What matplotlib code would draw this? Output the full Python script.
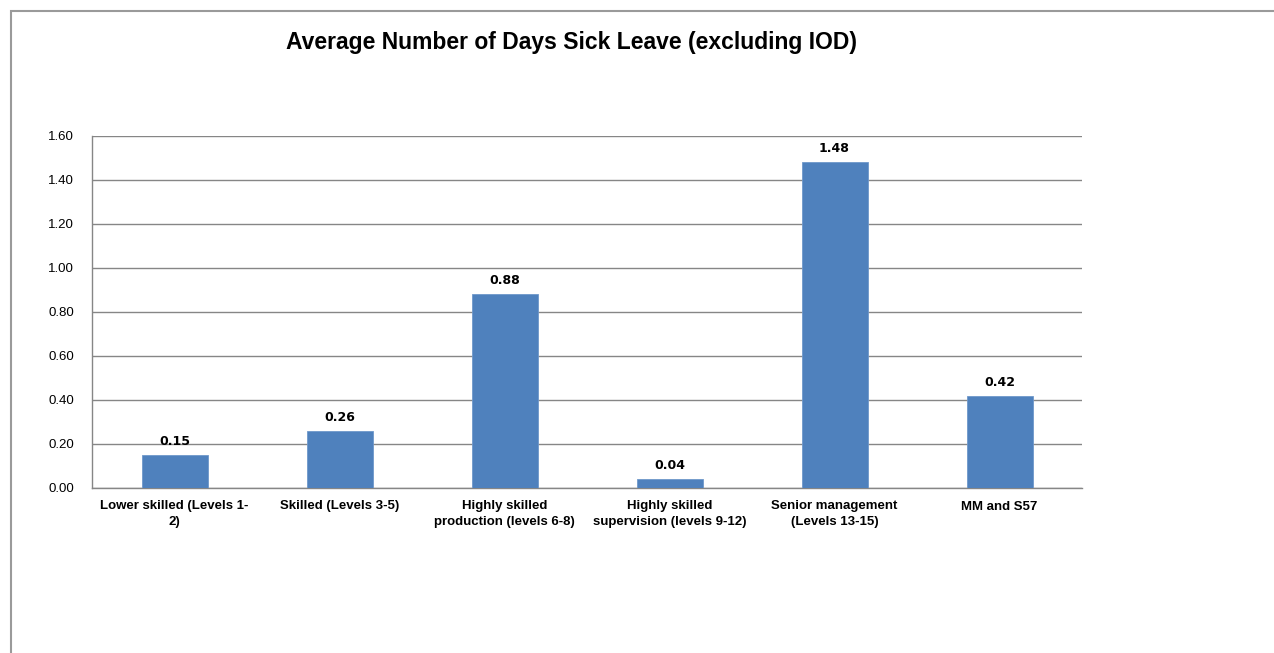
import matplotlib
matplotlib.use("Agg")
import matplotlib.pyplot as plt
from matplotlib.patches import Rectangle

categories = [
    "Lower skilled (Levels 1-\n2)",
    "Skilled (Levels 3-5)",
    "Highly skilled\nproduction (levels 6-8)",
    "Highly skilled\nsupervision (levels 9-12)",
    "Senior management\n(Levels 13-15)",
    "MM and S57",
]
values = [0.15, 0.26, 0.88, 0.04, 1.48, 0.42]
yticks = [0.0, 0.2, 0.4, 0.6, 0.8, 1.0, 1.2, 1.4, 1.6]
title = "Average Number of Days Sick Leave (excluding IOD)"

plt.rcParams["font.family"] = ["Liberation Sans", "DejaVu Sans"]

fig = plt.figure(figsize=(12.74, 6.53), dpi=100)
fig.patch.set_facecolor("white")

# outer chart border
fig.patches.append(Rectangle((11 / 1274, -0.1), 1.2, 1 - 11 / 653 + 0.1,
                             transform=fig.transFigure, fill=False,
                             edgecolor="#9a9a9a", linewidth=1.5, zorder=0))

ax = fig.add_axes([92 / 1274, 1 - 488 / 653, (1082 - 92) / 1274, (488 - 136) / 653])
x = list(range(len(categories)))
bars = ax.bar(x, values, width=0.4, color="#4F81BD", edgecolor="#6f98cb", linewidth=0.6, zorder=3)

ax.set_xlim(-0.5, len(categories) - 0.5)
ax.set_ylim(0, 1.6)
ax.set_yticks(yticks)
ax.set_yticklabels([f"{v:.2f}" for v in yticks], fontsize=9.5)
ax.set_xticks(x)
ax.set_xticklabels(categories, fontsize=9.5, fontweight="bold", linespacing=1.4)
ax.tick_params(axis="both", length=0)
ax.tick_params(axis="x", pad=9)
ax.tick_params(axis="y", pad=13)
ax.yaxis.grid(True, color="#868686", linewidth=1.0, zorder=0)
ax.set_axisbelow(True)
for side in ["top", "right"]:
    ax.spines[side].set_visible(False)
for side in ["left", "bottom"]:
    ax.spines[side].set_color("#868686")
    ax.spines[side].set_linewidth(1.0)

for xi, v in zip(x, values):
    ax.annotate(f"{v:.2f}", (xi, v), xytext=(0, 5), textcoords="offset points",
                ha="center", va="bottom", fontsize=9, fontweight="bold",
                family="DejaVu Sans")

fig.text(572 / 1274, 1 - 42 / 653, title, ha="center", va="center",
         fontsize=16.5, fontweight="bold")

fig.savefig("out.png", dpi=100, facecolor="white")
